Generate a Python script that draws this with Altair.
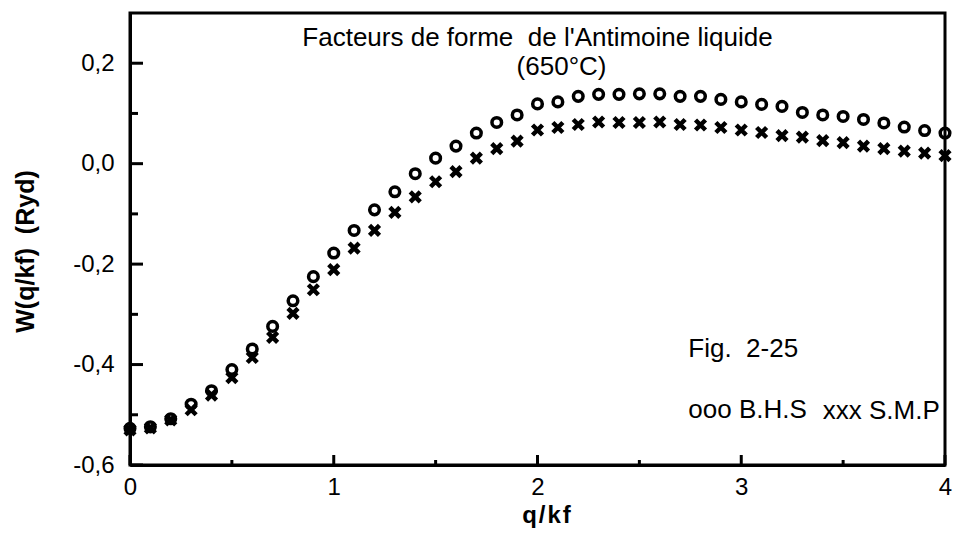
import altair as alt
import pandas as pd

# q/kf grid
q = [0.0, 0.1, 0.2, 0.3, 0.4, 0.5, 0.6, 0.7, 0.8, 0.9,
     1.0, 1.1, 1.2, 1.3, 1.4, 1.5, 1.6, 1.7, 1.8, 1.9,
     2.0, 2.1, 2.2, 2.3, 2.4, 2.5, 2.6, 2.7, 2.8, 2.9,
     3.0, 3.1, 3.2, 3.3, 3.4, 3.5, 3.6, 3.7, 3.8, 3.9, 4.0]

# B.H.S (circles)
bhs = [-0.527, -0.524, -0.508, -0.479, -0.452, -0.410, -0.369, -0.324, -0.273, -0.225,
       -0.178, -0.133, -0.092, -0.056, -0.020, 0.011, 0.035, 0.061, 0.082, 0.097,
       0.119, 0.123, 0.134, 0.138, 0.138, 0.139, 0.139, 0.134, 0.134, 0.128,
       0.123, 0.118, 0.114, 0.102, 0.097, 0.094, 0.088, 0.081, 0.073, 0.066, 0.061]

# S.M.P (crosses)
smp = [-0.530, -0.526, -0.510, -0.490, -0.461, -0.426, -0.386, -0.346, -0.298, -0.251,
       -0.211, -0.168, -0.133, -0.097, -0.066, -0.036, -0.016, 0.011, 0.030, 0.045,
       0.067, 0.072, 0.078, 0.083, 0.082, 0.082, 0.083, 0.078, 0.077, 0.072,
       0.067, 0.062, 0.056, 0.053, 0.046, 0.042, 0.035, 0.030, 0.025, 0.021, 0.016]

x_major = [0, 1, 2, 3, 4]
x_minor = [0.5, 1.5, 2.5, 3.5]
y_major = [-0.6, -0.4, -0.2, 0.0, 0.2]
y_minor = [-0.5, -0.3, -0.1, 0.1]

X_DOMAIN = [0, 4]
Y_DOMAIN = [-0.6, 0.3]

title_lines = ["Facteurs de forme\u00a0\u00a0de l'Antimoine liquide", "(650°C)"]
title_q = [2.0, 2.118]
title_v = [0.250, 0.193]

note_labels = ["Fig.\u00a0\u00a02-25", "ooo B.H.S", "xxx S.M.P"]
note_q = [2.74, 2.74, 3.40]
note_v = [-0.370, -0.490, -0.492]

FONT = "Liberation Sans"

W, H = 815, 452
df = pd.DataFrame({"q": q, "bhs": bhs, "smp": smp})

xs = alt.Scale(domain=X_DOMAIN, nice=False, zero=False)
ys = alt.Scale(domain=Y_DOMAIN, nice=False, zero=False)

# tick lengths converted to data units of each scale
px_x = (X_DOMAIN[1] - X_DOMAIN[0]) / W
px_y = (Y_DOMAIN[1] - Y_DOMAIN[0]) / H

x_axis = alt.Axis(values=x_major, format="d", ticks=False, domain=True, domainColor="#000000",
                  domainWidth=3, grid=False,
                  labelFont=FONT, labelFontSize=24, labelColor="#000000", labelPadding=10,
                  labelFlush=False,
                  title="q\u200a/\u200ak\u200af", titleFont=FONT, titleFontSize=24, titleFontWeight="bold",
                  titleColor="#000000", titleX=416, titleY=50, titleAlign="center",
                  titleBaseline="middle")
y_axis = alt.Axis(values=y_major, ticks=False, domain=True, domainColor="#000000",
                  domainWidth=3, grid=False,
                  labelExpr="(datum.value < -0.00001 ? '-' : '') + replace(format(abs(datum.value), '.1f'), '.', ',')",
                  labelFont=FONT, labelFontSize=24, labelColor="#000000", labelPadding=16,
                  labelFlush=False,
                  title="W(q/kf)\u00a0\u00a0(Ryd)", titleFont=FONT, titleFontSize=25, titleFontWeight="bold",
                  titleColor="#000000", titleAngle=270, titleX=-105, titleY=238,
                  titleAlign="center", titleBaseline="middle")


def XE(field):
    return alt.X(field, scale=xs, axis=x_axis)


def YE(field):
    return alt.Y(field, scale=ys, axis=y_axis)


circles = alt.Chart(df).mark_point(shape="circle", filled=False, size=92, strokeWidth=3.5,
                                   color="#000000", opacity=1).encode(x=XE("q:Q"), y=YE("bhs:Q"))

crosses = alt.Chart(df).mark_point(shape="M-1,-1L1,1M1,-1L-1,1", filled=False, size=100,
                                   strokeWidth=4.5, color="#000000", opacity=1).encode(
    x=XE("q:Q"), y=YE("smp:Q"))

# inward ticks
yt_df = pd.DataFrame({"v": y_major + y_minor,
                      "a": [X_DOMAIN[0]] * (len(y_major) + len(y_minor)),
                      "b": [X_DOMAIN[0] + 13 * px_x] * len(y_major) + [X_DOMAIN[0] + 8 * px_x] * len(y_minor)})
yt = alt.Chart(yt_df).mark_rule(color="#000000", strokeWidth=3).encode(
    y=YE("v:Q"), x=XE("a:Q"), x2="b:Q")

xt_df = pd.DataFrame({"t": x_major + x_minor,
                      "a": [Y_DOMAIN[0]] * (len(x_major) + len(x_minor)),
                      "b": [Y_DOMAIN[0] + 10 * px_y] * len(x_major) + [Y_DOMAIN[0] + 5 * px_y] * len(x_minor)})
xt = alt.Chart(xt_df).mark_rule(color="#000000", strokeWidth=3).encode(
    x=XE("t:Q"), y=YE("a:Q"), y2="b:Q")

title_df = pd.DataFrame({"q": title_q, "v": title_v, "t": title_lines})
titles = alt.Chart(title_df).mark_text(align="center", baseline="middle", font=FONT,
                                       fontSize=26, color="#000000").encode(
    x=XE("q:Q"), y=YE("v:Q"), text="t:N")

note_df = pd.DataFrame({"q": note_q, "v": note_v, "t": note_labels})
notes = alt.Chart(note_df).mark_text(align="left", baseline="middle", font=FONT,
                                     fontSize=26, color="#000000").encode(
    x=XE("q:Q"), y=YE("v:Q"), text="t:N")

chart = alt.layer(
    yt, xt, circles, crosses, titles, notes
).properties(
    width=W, height=H,
).configure_view(stroke="#000000", strokeWidth=3)

chart.save("out.html", embed_options={"renderer": "svg", "actions": False})
